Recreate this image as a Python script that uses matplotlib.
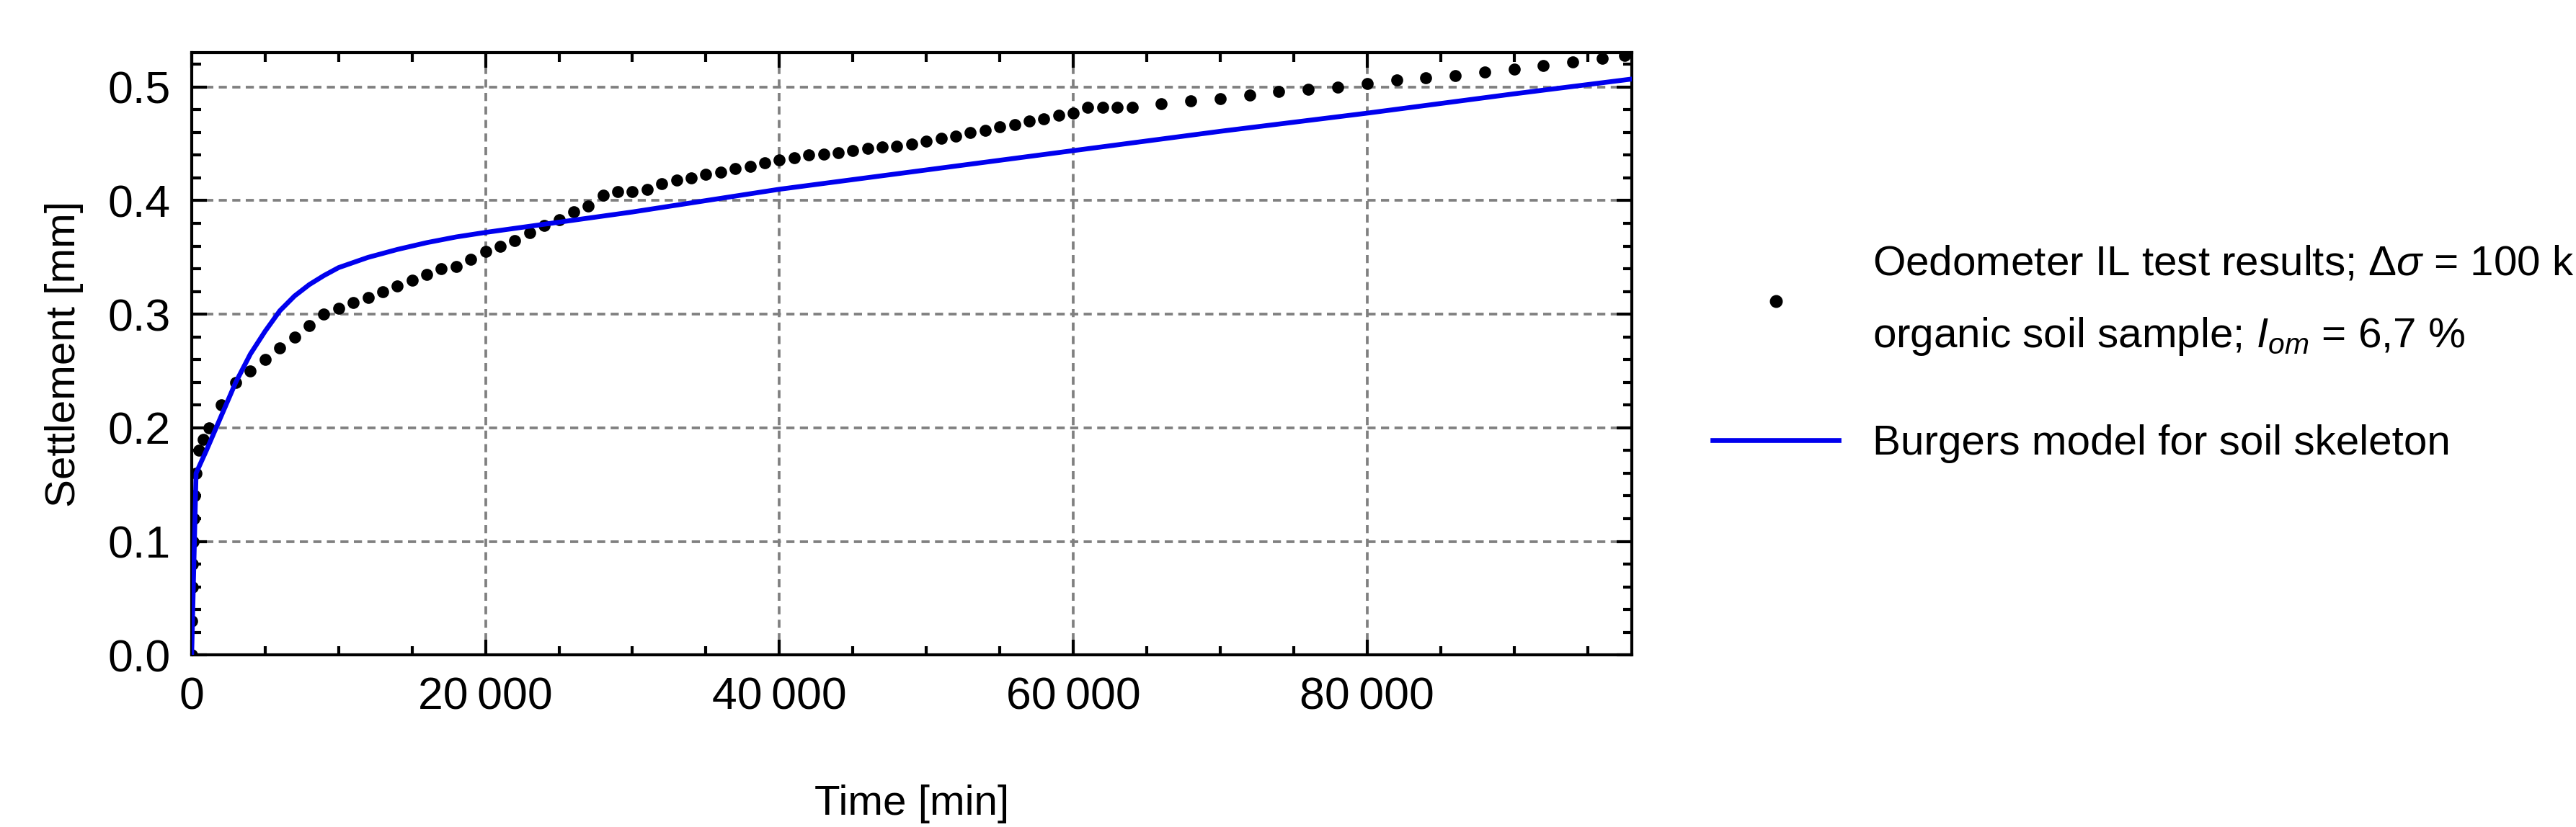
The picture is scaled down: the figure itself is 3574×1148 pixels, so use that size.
import numpy as np
import matplotlib.pyplot as plt
from matplotlib.ticker import MultipleLocator, FuncFormatter

plt.rcParams['font.family'] = ['Liberation Sans', 'DejaVu Sans']
plt.rcParams['mathtext.fontset'] = 'custom'
plt.rcParams['mathtext.rm'] = 'Liberation Sans'
plt.rcParams['mathtext.it'] = 'Liberation Sans:italic'

# --- measured settlement (oedometer) ---
t_meas = [0, 10, 30, 60, 100, 150, 200, 300, 500, 800, 1200, 2000, 3000, 4000,
          5000, 6000, 7000, 8000, 9000, 10000, 11000, 12000, 13000, 14000, 15000,
          16000, 17000, 18000, 19000, 20000, 21000, 22000, 23000, 24000, 25000,
          26000, 27000, 28000, 29000, 30000, 31000, 32000, 33000, 34000, 35000,
          36000, 37000, 38000, 39000, 40000, 41000, 42000, 43000, 44000, 45000,
          46000, 47000, 48000, 49000, 50000, 51000, 52000, 53000, 54000, 55000,
          56000, 57000, 58000, 59000, 60000, 61000, 62000, 63000, 64000,
          66000, 68000, 70000, 72000, 74000, 76000, 78000, 80000, 82000, 84000,
          86000, 88000, 90000, 92000, 94000, 96000, 97500]
s_meas = [0.0, 0.03, 0.06, 0.08, 0.10, 0.12, 0.14, 0.16, 0.18, 0.19, 0.20, 0.22, 0.24, 0.25,
          0.26, 0.27, 0.28, 0.29, 0.30, 0.305, 0.31, 0.315, 0.32, 0.325, 0.33,
          0.335, 0.34, 0.342, 0.348, 0.355, 0.36, 0.365, 0.372, 0.378, 0.383,
          0.39, 0.395, 0.405, 0.408, 0.408, 0.41, 0.415, 0.418, 0.42, 0.423,
          0.425, 0.428, 0.43, 0.433, 0.436, 0.438, 0.44, 0.441, 0.442, 0.444,
          0.446, 0.447, 0.448, 0.45, 0.452, 0.455, 0.457, 0.46, 0.462, 0.465,
          0.467, 0.47, 0.472, 0.475, 0.477, 0.482, 0.482, 0.482, 0.482,
          0.485, 0.488, 0.49, 0.493, 0.496, 0.498, 0.50, 0.503, 0.506, 0.508,
          0.51, 0.513, 0.516, 0.519, 0.522, 0.525, 0.528]

# --- Burgers model ---
t_model = [0, 300, 1000, 2000, 3000, 4000, 5000, 6000, 7000, 8000, 9000, 10000,
           12000, 14000, 16000, 18000, 20000, 25000, 30000, 40000, 50000, 60000,
           70000, 80000, 90000, 98000]
s_model = [0.0, 0.16, 0.18, 0.21, 0.24, 0.265, 0.285, 0.303, 0.316, 0.326, 0.334, 0.341,
           0.350, 0.357, 0.363, 0.368, 0.372, 0.381, 0.39, 0.41, 0.427, 0.444,
           0.461, 0.477, 0.494, 0.507]

fig = plt.figure(figsize=(3574 / 300, 1148 / 300), dpi=300)
ax = fig.add_axes([0.0744, 0.208, 0.559, 0.728])

ax.plot(t_meas, s_meas, 'o', color='black', ms=3.0, zorder=3,
        label='Oedometer IL test results; $\\mathit{\\Delta\\sigma}$ = 100 kPa\n'
              'organic soil sample; $I_{om}$ = 6,7 %')
ax.plot(t_model, s_model, color='#0000ee', lw=1.6, zorder=4,
        label='Burgers model for soil skeleton')

ax.set_xlim(0, 98000)
ax.set_ylim(0, 0.53)
ax.xaxis.set_major_locator(MultipleLocator(20000))
ax.xaxis.set_minor_locator(MultipleLocator(5000))
ax.yaxis.set_major_locator(MultipleLocator(0.1))
ax.yaxis.set_minor_locator(MultipleLocator(0.02))
ax.xaxis.set_major_formatter(FuncFormatter(lambda v, p: f"{int(v):,}".replace(',', '\u2009')))
ax.yaxis.set_major_formatter(FuncFormatter(lambda v, p: f"{v:.1f}"))
ax.tick_params(which='both', direction='in', top=True, right=True, labelsize=15, width=1.0)
ax.tick_params(which='major', length=5, pad=7)
ax.tick_params(which='minor', length=3)
for sp in ax.spines.values():
    sp.set_linewidth(1.0)
ax.grid(True, which='major', ls=(0, (3, 2)), color='gray', lw=0.9)

ax.set_xlabel('Time [min]', fontsize=14, labelpad=22)
ax.set_ylabel('Settlement [mm]', fontsize=14, labelpad=8)

leg = ax.legend(loc='center left', bbox_to_anchor=(1.03, 0.5), frameon=False, fontsize=14,
                handlelength=3.0, labelspacing=1.6, markerscale=1.1)
for txt in leg.get_texts():
    txt.set_linespacing(2.0)

fig.savefig('out.png', dpi=300)
